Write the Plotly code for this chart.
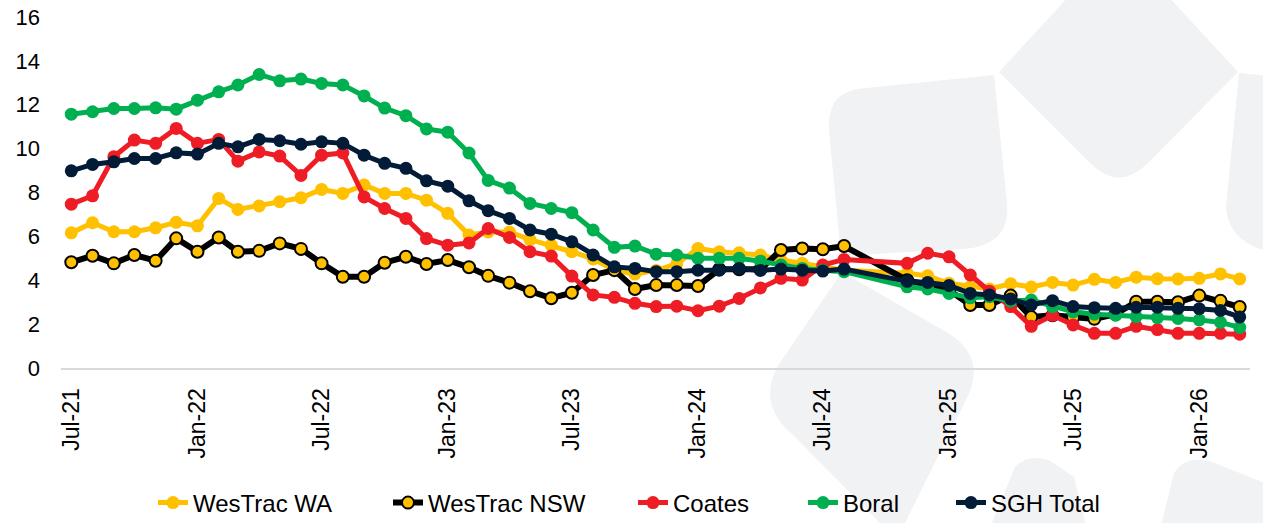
import plotly.graph_objects as go

# ---------------- data ----------------
months = [
    "2021-07-01", "2021-08-01", "2021-09-01", "2021-10-01", "2021-11-01", "2021-12-01",
    "2022-01-01", "2022-02-01", "2022-03-01", "2022-04-01", "2022-05-01", "2022-06-01",
    "2022-07-01", "2022-08-01", "2022-09-01", "2022-10-01", "2022-11-01", "2022-12-01",
    "2023-01-01", "2023-02-01", "2023-03-01", "2023-04-01", "2023-05-01", "2023-06-01",
    "2023-07-01", "2023-08-01", "2023-09-01", "2023-10-01", "2023-11-01", "2023-12-01",
    "2024-01-01", "2024-02-01", "2024-03-01", "2024-04-01", "2024-05-01", "2024-06-01",
    "2024-07-01", "2024-08-01",
    "2024-11-01", "2024-12-01",
    "2025-01-01", "2025-02-01", "2025-03-01", "2025-04-01", "2025-05-01", "2025-06-01",
    "2025-07-01", "2025-08-01", "2025-09-01", "2025-10-01", "2025-11-01", "2025-12-01",
    "2026-01-01", "2026-02-01", "2026-03-01",
]

westrac_wa = [
    6.16, 6.62, 6.21, 6.21, 6.39, 6.64, 6.48, 7.73, 7.23, 7.39, 7.58, 7.76,
    8.14, 7.96, 8.34, 7.96, 7.96, 7.65, 7.05, 6.06, 6.20, 6.20, 5.85, 5.60,
    5.30, 4.97, 4.46, 4.28, 4.45, 4.75, 5.45, 5.30, 5.25, 5.15, 4.92, 4.77,
    4.61, 4.46,
    4.32, 4.20,
    3.86, 3.70, 3.60, 3.84, 3.69, 3.90, 3.78, 4.04, 3.90, 4.14, 4.07, 4.06,
    4.09, 4.29, 4.06,
]

westrac_nsw = [
    4.82, 5.12, 4.77, 5.15, 4.89, 5.91, 5.30, 5.95, 5.30, 5.34, 5.68, 5.43,
    4.77, 4.16, 4.16, 4.80, 5.07, 4.74, 4.92, 4.59, 4.20, 3.89, 3.50, 3.18,
    3.43, 4.24, 4.46, 3.60, 3.78, 3.78, 3.74, 4.50, 4.50, 4.50, 5.38, 5.45,
    5.41, 5.56,
    4.00, 3.75,
    3.55, 2.87, 2.87, 3.30, 2.32, 2.40, 2.30, 2.24, 2.45, 3.02, 3.02, 3.00,
    3.30, 3.06, 2.78,
]

coates = [
    7.47, 7.85, 9.63, 10.39, 10.24, 10.92, 10.24, 10.42, 9.43, 9.85, 9.66, 8.78,
    9.70, 9.80, 7.80, 7.27, 6.82, 5.90, 5.60, 5.70, 6.36, 5.95, 5.30, 5.10,
    4.19, 3.33, 3.22, 2.95, 2.80, 2.82, 2.61, 2.82, 3.17, 3.65, 4.09, 4.01,
    4.69, 4.95,
    4.77, 5.23,
    5.07, 4.24, 3.50, 2.80, 1.90, 2.40, 1.96, 1.58, 1.58, 1.90, 1.75, 1.58,
    1.58, 1.58, 1.54,
]

boral = [
    11.57, 11.68, 11.83, 11.83, 11.86, 11.80, 12.21, 12.59, 12.90, 13.38, 13.09, 13.17,
    12.97, 12.90, 12.40, 11.85, 11.50, 10.90, 10.75, 9.80, 8.55, 8.20, 7.50, 7.27,
    7.08, 6.29, 5.50, 5.56, 5.19, 5.15, 5.00, 5.00, 5.00, 4.87, 4.69, 4.54,
    4.46, 4.39,
    3.70, 3.60,
    3.40, 3.20, 3.25, 3.05, 3.10, 2.80, 2.56, 2.45, 2.41, 2.34, 2.30, 2.26,
    2.19, 2.08, 1.85,
]

sgh_total = [
    8.99, 9.28, 9.40, 9.55, 9.55, 9.81, 9.75, 10.24, 10.08, 10.42, 10.36, 10.20,
    10.31, 10.24, 9.70, 9.33, 9.10, 8.53, 8.29, 7.62, 7.17, 6.82, 6.29, 6.10,
    5.75, 5.15, 4.61, 4.54, 4.39, 4.39, 4.46, 4.46, 4.54, 4.45, 4.51, 4.46,
    4.42, 4.51,
    3.95, 3.90,
    3.76, 3.40, 3.33, 3.15, 2.87, 3.07, 2.80, 2.75, 2.72, 2.77, 2.77, 2.72,
    2.70, 2.62, 2.33,
]

series_names = ["WesTrac WA", "WesTrac NSW", "Coates", "Boral", "SGH Total"]

tick_dates = ["2021-07-01", "2022-01-01", "2022-07-01", "2023-01-01", "2023-07-01",
              "2024-01-01", "2024-07-01", "2025-01-01", "2025-07-01", "2026-01-01"]
tick_labels = ["Jul-21", "Jan-22", "Jul-22", "Jan-23", "Jul-23",
               "Jan-24", "Jul-24", "Jan-25", "Jul-25", "Jan-26"]
y_ticks = [0, 2, 4, 6, 8, 10, 12, 14, 16]

# ---------------- styling ----------------
W, H = 1263, 523
ML, MR, MT, MB = 61, 13, 17, 155
PW, PH = W - ML - MR, H - MT - MB
FONT = "Liberation Sans, Arial, sans-serif"

YELLOW = "#FFC000"
RED = "#EE1D25"
GREEN = "#00B050"
NAVY = "#021C37"
BLACK = "#000000"
WM = "#F1F2F4"

# left edge (px) of each legend entry's text, minus the 40px symbol area
legend_text_px = [193, 428, 673, 843, 991]
legend_ids = ["legend", "legend2", "legend3", "legend4", "legend5"]

fig = go.Figure()

styles = [
    dict(line=dict(color=YELLOW, width=5), marker=dict(color=YELLOW, size=13)),
    dict(line=dict(color=BLACK, width=6),
         marker=dict(color=YELLOW, size=12, line=dict(color=BLACK, width=2))),
    dict(line=dict(color=RED, width=5), marker=dict(color=RED, size=13)),
    dict(line=dict(color=GREEN, width=5), marker=dict(color=GREEN, size=13)),
    dict(line=dict(color=NAVY, width=5), marker=dict(color=NAVY, size=13)),
]
values = [westrac_wa, westrac_nsw, coates, boral, sgh_total]

for name, ys, st, lid in zip(series_names, values, styles, legend_ids):
    fig.add_trace(go.Scatter(x=months, y=ys, name=name, mode="lines+markers",
                             legend=lid, **st))

# watermark (decorative background shapes), in pixel coordinates
def px(x, y):
    return f"{(x - ML) / PW:.5f},{(H - MB - y) / PH:.5f}"

def path(cmds):
    out = []
    for c in cmds:
        if c[0] == "M":
            out.append("M" + px(*c[1]))
        elif c[0] == "L":
            out.append("L" + px(*c[1]))
        elif c[0] == "Q":
            out.append("Q" + px(*c[1]) + " " + px(*c[2]))
        elif c[0] == "Z":
            out.append("Z")
    return " ".join(out)

wm_shapes = [
    [("M", (829, 130)), ("Q", (826, 90), (866, 88)), ("L", (994, 75)), ("L", (1007, 203)),
     ("Q", (1011, 246), (962, 249)), ("L", (841, 256)), ("Z",)],
    [("M", (842, 272)), ("L", (948, 333)), ("Q", (988, 358), (966, 400)), ("L", (905, 523)),
     ("L", (880, 523)), ("L", (791, 433)), ("Q", (758, 405), (777, 367)), ("Z",)],
    [("M", (1070, -5)), ("L", (1167, -5)), ("L", (1238, 72)), ("L", (1148, 163)),
     ("Q", (1119, 192), (1090, 163)), ("L", (999, 72)), ("Z",)],
    [("M", (1239, 73)), ("L", (1270, 76)), ("L", (1270, 252)), ("Q", (1228, 242), (1226, 207)), ("Z",)],
    [("M", (989, 530)), ("L", (1015, 467)), ("Q", (1030, 452), (1052, 462)), ("L", (1074, 477)),
     ("L", (1087, 530)), ("Z",)],
    [("M", (1160, 530)), ("L", (1174, 473)), ("Q", (1186, 454), (1212, 462)), ("L", (1270, 485)),
     ("L", (1270, 530)), ("Z",)],
]
shapes = [dict(type="path", xref="paper", yref="paper", path=path(s),
               fillcolor=WM, line=dict(width=0), layer="below") for s in wm_shapes]

legend_y = 1 - 503 / H
legends = {}
for lid, tx in zip(legend_ids, legend_text_px):
    legends[lid] = dict(
        orientation="h", x=(tx - 40 - ML) / PW, xanchor="left",
        yref="container", y=legend_y, yanchor="middle",
        font=dict(family=FONT, size=24, color="#000000"),
        bgcolor="rgba(0,0,0,0)", borderwidth=0, itemwidth=30,
    )

fig.update_layout(
    width=W, height=H,
    margin=dict(l=ML, r=MR, t=MT, b=MB, pad=0, autoexpand=False),
    paper_bgcolor="white",
    plot_bgcolor="rgba(0,0,0,0)",
    font=dict(family=FONT, color="#000000", size=22),
    shapes=shapes,
    showlegend=True,
    xaxis=dict(
        type="date",
        range=["2021-06-16", "2026-03-16"],
        tickvals=tick_dates, ticktext=tick_labels,
        tickangle=-90,
        tickfont=dict(family=FONT, size=23, color="#000000"),
        showgrid=False, zeroline=False,
        showline=True, linecolor="#D9D9D9", linewidth=2,
        ticks="", ticklabelstandoff=9, automargin=False,
    ),
    yaxis=dict(
        range=[0, 16], tickvals=y_ticks,
        tickfont=dict(family=FONT, size=22, color="#000000"),
        showgrid=False, zeroline=False, showline=False,
        ticks="", ticklabelstandoff=20, automargin=False,
    ),
    **legends,
)

fig.write_html("out.html", config={"displayModeBar": False},
               post_script="document.body.style.margin='0';document.body.style.overflow='hidden';")
